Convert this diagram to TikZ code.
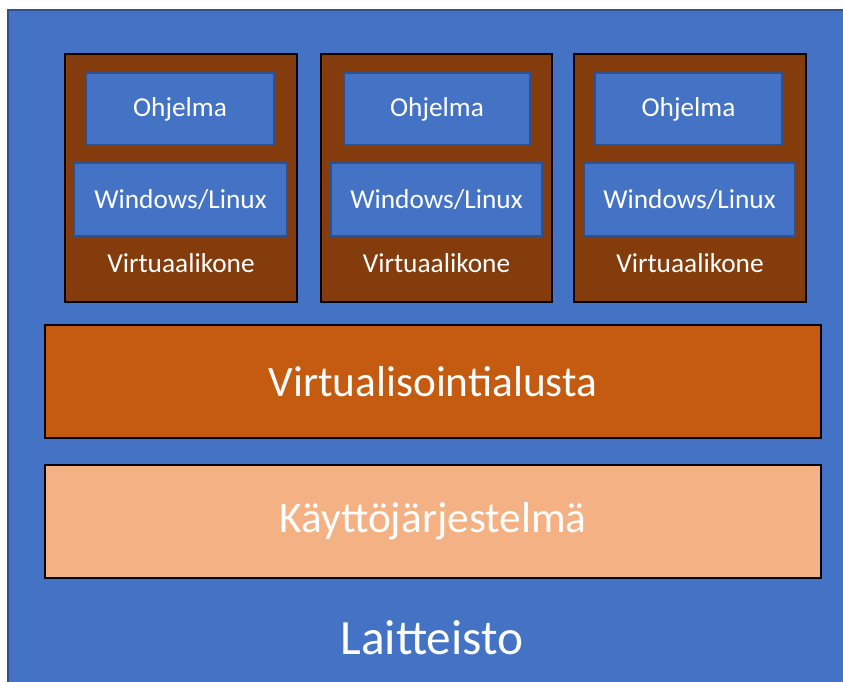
\documentclass[tikz,border=0pt]{standalone}
\usepackage{fontspec}
\setmainfont{Carlito}
\definecolor{ofblue}{HTML}{4472C4}
\definecolor{ofdark}{HTML}{2F528F}
\definecolor{vmbrown}{HTML}{843C0C}
\definecolor{vplat}{HTML}{C55A11}
\definecolor{oslight}{HTML}{F4B183}
\def\px{0.75pt}
\tikzset{
  vmbox/.style={draw=black, line width=1.2pt, fill=vmbrown, inner sep=0pt},
  innerbox/.style={draw=ofdark, line width=0.8pt, fill=ofblue, inner sep=0pt, text=white, font=\fontsize{20.5}{24}\selectfont},
  vmlabel/.style={text=white, inner sep=0pt, font=\fontsize{20.5}{24}\selectfont},
  bar/.style={draw=black, line width=1.2pt, inner sep=0pt, text=white, minimum width=776*\px, minimum height=113*\px, font=\fontsize{32.5}{38}\selectfont},
}
\begin{document}
\begin{tikzpicture}[x=\px, y=-\px]
\useasboundingbox (0,0) rectangle (843,682);
\node[draw=ofdark, line width=0.8pt, fill=ofblue, inner sep=0pt, minimum width=836*\px, minimum height=673*\px] (hw) at (426,346.5) {};
% VMs
\foreach \i/\cx/\w/\ox/\ow/\wx/\ww in {1/181/232/180/188/180.5/213, 2/436.5/231/437/186/436.5/211, 3/690/232/688.5/187/689.5/211}{
  \node[vmbox, minimum width=\w*\px, minimum height=248*\px] (vm\i) at (\cx,178) {};
  \node[innerbox, minimum width=\ow*\px, minimum height=72*\px] (app\i) at (\ox,109) {Ohjelma};
  \node[innerbox, minimum width=\ww*\px, minimum height=73*\px] (os\i) at (\wx,199.5) {Windows/Linux};
  \node[vmlabel] (vml\i) at (\cx,263) {Virtuaalikone};
}
\node[bar, fill=vplat] (virt) at (433,381.5) {Virtualisointialusta};
\node[bar, fill=oslight] (host) at (433,521.5) {Käyttöjärjestelmä};
\node[text=white, inner sep=0pt, font=\fontsize{37}{44}\selectfont] (hwl) at (432,638) {Laitteisto};
\end{tikzpicture}
\end{document}
